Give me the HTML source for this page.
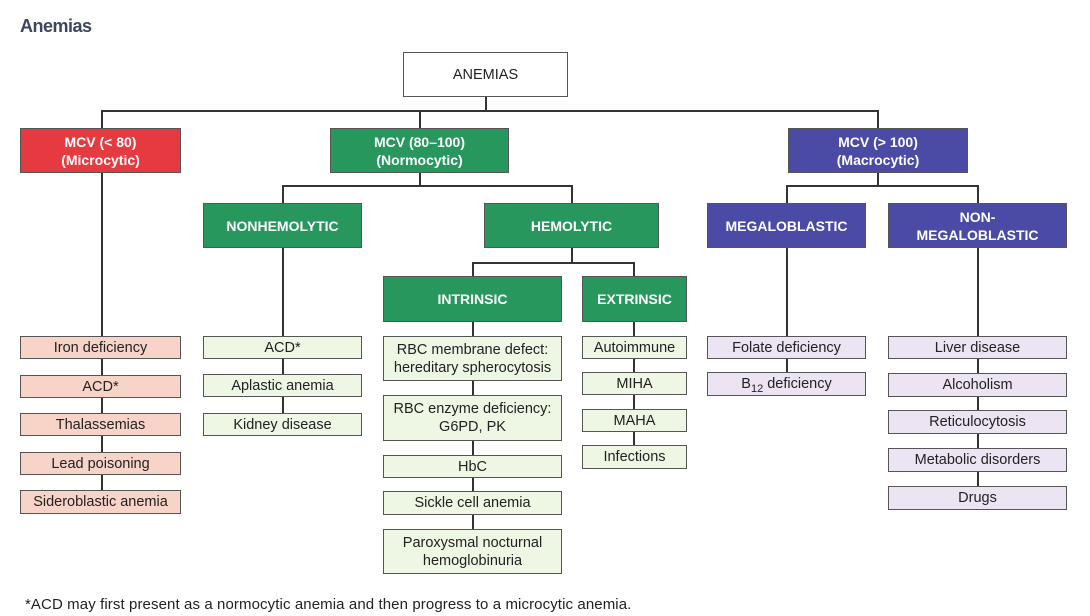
<!DOCTYPE html>
<html><head><meta charset="utf-8"><style>
body{margin:0;width:1090px;height:616px;background:#fff;position:relative;overflow:hidden;font-family:"Liberation Sans",Arial,sans-serif;}
.b{position:absolute;box-sizing:border-box;border:1.5px solid #555;display:flex;align-items:center;justify-content:center;text-align:center;font-size:14.5px;color:#222;line-height:18px;}
.h{color:#fff;font-weight:bold;font-size:14px;}
.r{background:#e53a40;}
.g{background:#27975e;}
.u{background:#4b4ba6;}
.pr{background:#f7d3c8;}
.pg{background:#eef6e4;}
.pl{background:#ece3f3;}
.l{position:absolute;background:#333;}
</style></head><body>
<div style="position:absolute;left:20px;top:16px;font-weight:bold;font-size:18px;color:#3d4660;letter-spacing:-0.5px;">Anemias</div>

<!-- lines -->
<div class="l" style="left:485px;top:97px;width:1.5px;height:13px"></div>
<div class="l" style="left:101px;top:110px;width:777px;height:1.5px"></div>
<div class="l" style="left:101px;top:110px;width:1.5px;height:18px"></div>
<div class="l" style="left:419px;top:110px;width:1.5px;height:18px"></div>
<div class="l" style="left:877px;top:110px;width:1.5px;height:18px"></div>
<div class="l" style="left:101px;top:173px;width:1.5px;height:163px"></div>
<div class="l" style="left:419px;top:173px;width:1.5px;height:12px"></div>
<div class="l" style="left:282px;top:185px;width:290px;height:1.5px"></div>
<div class="l" style="left:282px;top:185px;width:1.5px;height:18px"></div>
<div class="l" style="left:571px;top:185px;width:1.5px;height:18px"></div>
<div class="l" style="left:877px;top:173px;width:1.5px;height:12px"></div>
<div class="l" style="left:786px;top:185px;width:192px;height:1.5px"></div>
<div class="l" style="left:786px;top:185px;width:1.5px;height:18px"></div>
<div class="l" style="left:977px;top:185px;width:1.5px;height:18px"></div>
<div class="l" style="left:282px;top:248px;width:1.5px;height:88px"></div>
<div class="l" style="left:571px;top:248px;width:1.5px;height:14px"></div>
<div class="l" style="left:472px;top:262px;width:162px;height:1.5px"></div>
<div class="l" style="left:472px;top:262px;width:1.5px;height:14px"></div>
<div class="l" style="left:633px;top:262px;width:1.5px;height:14px"></div>
<div class="l" style="left:786px;top:248px;width:1.5px;height:124px"></div>
<div class="l" style="left:977px;top:248px;width:1.5px;height:238px"></div>
<div class="l" style="left:101px;top:336px;width:1.5px;height:154px"></div>
<div class="l" style="left:282px;top:336px;width:1.5px;height:77px"></div>
<div class="l" style="left:472px;top:321px;width:1.5px;height:208px"></div>
<div class="l" style="left:633px;top:321px;width:1.5px;height:124px"></div>

<div class="b" style="left:403px;top:52px;width:165px;height:45px;background:#fff;font-size:14.5px">ANEMIAS</div>
<div class="b h r" style="left:20px;top:128px;width:161px;height:45px">MCV (&lt; 80)<br>(Microcytic)</div>
<div class="b h g" style="left:330px;top:128px;width:179px;height:45px">MCV (80–100)<br>(Normocytic)</div>
<div class="b h u" style="left:788px;top:128px;width:180px;height:45px">MCV (&gt; 100)<br>(Macrocytic)</div>
<div class="b h g" style="left:203px;top:203px;width:159px;height:45px">NONHEMOLYTIC</div>
<div class="b h g" style="left:484px;top:203px;width:175px;height:45px">HEMOLYTIC</div>
<div class="b h u" style="left:707px;top:203px;width:159px;height:45px">MEGALOBLASTIC</div>
<div class="b h u" style="left:888px;top:203px;width:179px;height:45px">NON-<br>MEGALOBLASTIC</div>
<div class="b h g" style="left:383px;top:276px;width:179px;height:46px">INTRINSIC</div>
<div class="b h g" style="left:582px;top:276px;width:105px;height:46px">EXTRINSIC</div>

<div class="b pr" style="left:20px;top:336px;width:161px;height:23px">Iron deficiency</div>
<div class="b pr" style="left:20px;top:375px;width:161px;height:23px">ACD*</div>
<div class="b pr" style="left:20px;top:413px;width:161px;height:23px">Thalassemias</div>
<div class="b pr" style="left:20px;top:452px;width:161px;height:23px">Lead poisoning</div>
<div class="b pr" style="left:20px;top:490px;width:161px;height:24px">Sideroblastic anemia</div>

<div class="b pg" style="left:203px;top:336px;width:159px;height:23px">ACD*</div>
<div class="b pg" style="left:203px;top:374px;width:159px;height:23px">Aplastic anemia</div>
<div class="b pg" style="left:203px;top:413px;width:159px;height:23px">Kidney disease</div>

<div class="b pg" style="left:383px;top:336px;width:179px;height:45px">RBC membrane defect:<br>hereditary spherocytosis</div>
<div class="b pg" style="left:383px;top:395px;width:179px;height:46px">RBC enzyme deficiency:<br>G6PD, PK</div>
<div class="b pg" style="left:383px;top:455px;width:179px;height:23px">HbC</div>
<div class="b pg" style="left:383px;top:491px;width:179px;height:24px">Sickle cell anemia</div>
<div class="b pg" style="left:383px;top:529px;width:179px;height:45px">Paroxysmal nocturnal<br>hemoglobinuria</div>

<div class="b pg" style="left:582px;top:336px;width:105px;height:23px">Autoimmune</div>
<div class="b pg" style="left:582px;top:372px;width:105px;height:23px">MIHA</div>
<div class="b pg" style="left:582px;top:409px;width:105px;height:23px">MAHA</div>
<div class="b pg" style="left:582px;top:445px;width:105px;height:24px">Infections</div>

<div class="b pl" style="left:707px;top:336px;width:159px;height:23px">Folate deficiency</div>
<div class="b pl" style="left:707px;top:372px;width:159px;height:24px"><span>B<span style="font-size:11px;position:relative;top:4px">12</span> deficiency</span></div>

<div class="b pl" style="left:888px;top:336px;width:179px;height:23px">Liver disease</div>
<div class="b pl" style="left:888px;top:373px;width:179px;height:24px">Alcoholism</div>
<div class="b pl" style="left:888px;top:410px;width:179px;height:24px">Reticulocytosis</div>
<div class="b pl" style="left:888px;top:448px;width:179px;height:24px">Metabolic disorders</div>
<div class="b pl" style="left:888px;top:486px;width:179px;height:24px">Drugs</div>

<div style="position:absolute;left:25px;top:596px;font-size:15px;color:#222;letter-spacing:0.1px;">*ACD may first present as a normocytic anemia and then progress to a microcytic anemia.</div>
</body></html>
